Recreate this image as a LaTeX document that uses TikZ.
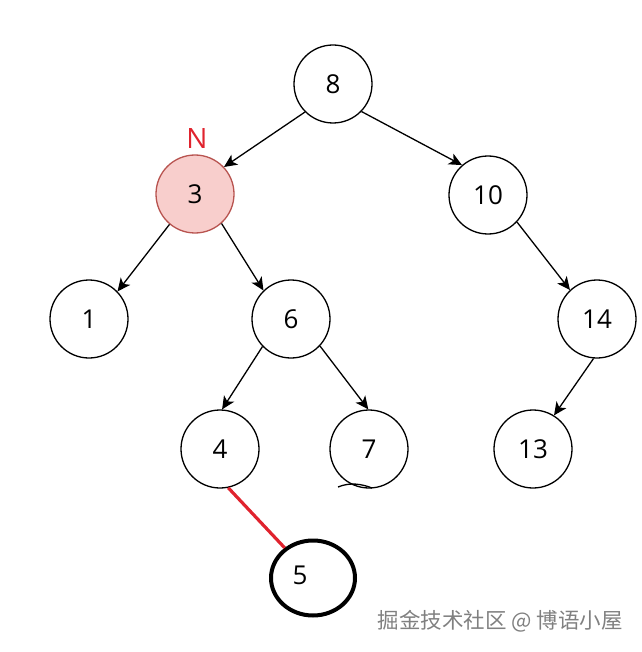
\documentclass[tikz,border=0pt]{standalone}
\usepackage{fontspec}
\setmainfont{Open Sans}
\newfontfamily\cjk{Noto Sans CJK SC}
\usetikzlibrary{arrows.meta,shapes.geometric}
\definecolor{pinkfill}{HTML}{F8CECC}
\definecolor{pinkdraw}{HTML}{B85450}
\definecolor{nred}{HTML}{E0232E}
\begin{document}
\begin{tikzpicture}[x=1pt,y=-1pt,
  bnode/.style={circle,draw=black,line width=1.3pt,minimum size=78pt,inner sep=0pt,font=\fontsize{26}{30}\selectfont},
  edge/.style={line width=1.3pt,-{Stealth[length=13pt,width=12pt,inset=3.5pt]}}]
\useasboundingbox (0,0) rectangle (641,652);
\node[bnode] (n8) at (333,84) {8};
\node[bnode,fill=pinkfill,draw=pinkdraw] (n3) at (195,194) {3};
\node[bnode] (n10) at (488,195) {10};
\node[bnode] (n1) at (89,319) {1};
\node[bnode] (n6) at (291,319) {6};
\node[bnode] (n14) at (597,319) {14};
\node[bnode] (n4) at (220,449) {4};
\node[bnode] (n7) at (369,449) {7};
\node[bnode] (n13) at (533,449) {13};
\node[draw=black,ellipse,line width=4pt,minimum width=84pt,minimum height=75pt,inner sep=0pt,font=\fontsize{26}{30}\selectfont] (n5) at (313,578) {\raisebox{5pt}{\hspace*{-26pt}5}};
\node[text=nred,font=\fontsize{28}{30}\selectfont] (lN) at (197,139) {N};
\draw[edge] (n8.225) -- (n3.43);
\draw[edge] (n8.-44) -- (n10.131);
\draw[edge] (n3.230) -- (n1.44);
\draw[edge] (n3.-48) -- (n6.134);
\draw[edge] (n10.-43) -- (n14.133);
\draw[edge] (n6.224) -- (n4.87);
\draw[edge] (n6.-43) -- (n7.91);
\draw[edge] (n14.265) -- (n13.58);
\draw[nred,line width=3.2pt] (n4.-78) -- (n5);
\coordinate (k7a) at (338,487);
\coordinate (k7b) at (372,488);
\draw[line width=1.3pt] (k7a) .. controls (350,482) and (362,484) .. (k7b);
\node[text=gray,font=\cjk\fontsize{21.5}{24}\selectfont,anchor=west] (wm) at (374,621) {掘金技术社区 @ 博语小屋};
\end{tikzpicture}
\end{document}
